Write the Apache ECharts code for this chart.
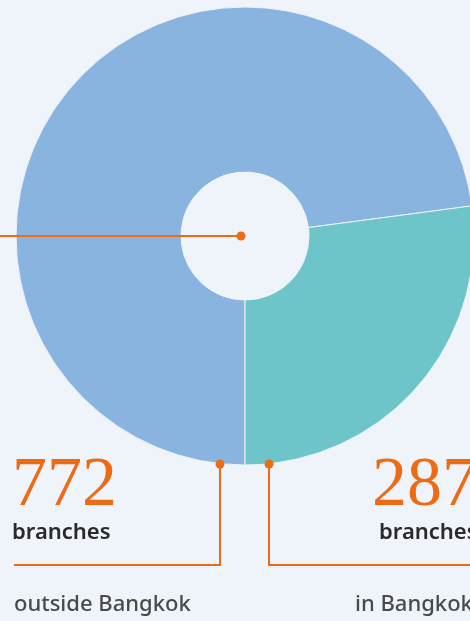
<!DOCTYPE html>
<html>
<head>
<meta charset="utf-8">
<script src="https://cdn.jsdelivr.net/npm/echarts@6/dist/echarts.min.js"></script>
<style>
  html, body { margin: 0; padding: 0; background: #EFF3FA; }
  #chart { width: 470px; height: 621px; }
</style>
</head>
<body>
<div id="chart"></div>
<script>
// branches split
const categories = ["outside Bangkok", "in Bangkok"];
const values = [772, 287];
const unitLabel = "branches";

(function () {
  var myChart = echarts.init(document.getElementById("chart"));
  const colors = ["#89B4E0", "#6EC5C9"];
  const orange = "#EE6B16";
  const cx = 245, cy = 236, rOut = 229, rIn = 64;

  // annotation text blocks
  const blocks = [
    { x: 12, lx: 14, dotX: 220, endX: 14 },
    { x: 372, lx: 355, dotX: 269, endX: 480 },
  ];
  const graphic = [];
  // line from left edge into the hole
  graphic.push({
    type: "line", z: 10,
    shape: { x1: 0, y1: cy, x2: cx - 4, y2: cy },
    style: { stroke: orange, lineWidth: 2 },
  });
  graphic.push({
    type: "circle", z: 10,
    shape: { cx: cx - 4, cy: cy, r: 4.5 },
    style: { fill: orange },
  });
  blocks.forEach((b, i) => {
    graphic.push({
      type: "polyline", z: 10,
      shape: { points: [[b.dotX, cy + rOut - 1], [b.dotX, 565], [b.endX, 565]] },
      style: { stroke: orange, lineWidth: 2, fill: null },
    });
    graphic.push({
      type: "circle", z: 10,
      shape: { cx: b.dotX, cy: cy + rOut - 1, r: 4.5 },
      style: { fill: orange },
    });
    graphic.push({
      type: "text", z: 10,
      style: {
        x: b.x, y: 452, text: String(values[i]),
        font: '70px "Liberation Serif"', fill: orange,
        verticalAlign: "top",
      },
    });
    graphic.push({
      type: "text", z: 10,
      style: {
        x: b.x + (i === 0 ? 0 : 7), y: 522, text: unitLabel,
        font: '600 22px "Noto Sans"', fill: "#2A2A2A",
        verticalAlign: "top",
      },
    });
    graphic.push({
      type: "text", z: 10,
      style: {
        x: b.lx, y: 594, text: categories[i],
        font: '500 22px "Noto Sans"', fill: "#4A4A4A",
        verticalAlign: "top",
      },
    });
  });

  var option = {
    backgroundColor: "#EFF3FA",
    animation: false,
    color: colors,
    series: [
      {
        type: "pie",
        center: [cx, cy],
        radius: [rIn, rOut],
        startAngle: 270,
        clockwise: true,
        silent: true,
        label: { show: false },
        labelLine: { show: false },
        itemStyle: { borderColor: "#EFF3FA", borderWidth: 1 },
        data: categories.map((c, i) => ({ name: c, value: values[i] })),
      },
    ],
    graphic: graphic,
  };

  myChart.setOption(option);
  window.addEventListener("resize", function () {
    myChart.resize();
  });
})();
</script>
</body>
</html>
